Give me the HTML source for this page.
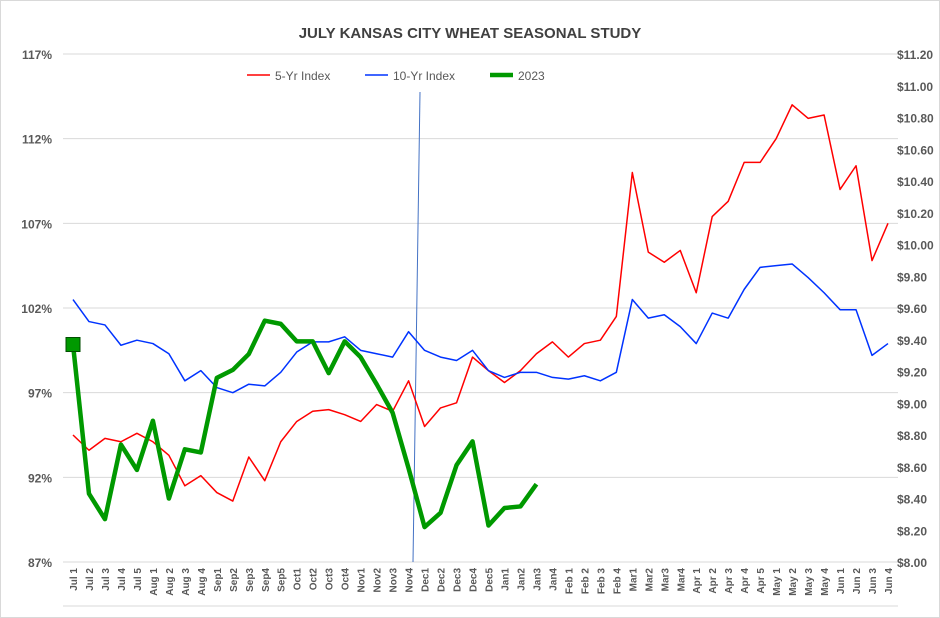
<!DOCTYPE html>
<html><head><meta charset="utf-8"><style>
body{margin:0;background:#fff;}
svg{display:block;font-family:"Liberation Sans",Arial,sans-serif;}
</style></head><body>
<svg id="chart" width="940" height="618" viewBox="0 0 940 618">
<rect x="0.5" y="0.5" width="939" height="617" fill="#fff" stroke="#d9d9d9"/>
<text x="470" y="38" text-anchor="middle" font-size="15" font-weight="bold" fill="#404040">JULY KANSAS CITY WHEAT SEASONAL STUDY</text>
<g id="grid"></g><g id="axes"></g><g id="series"></g>
<g>
<line x1="247" y1="75" x2="270" y2="75" stroke="#ff0000" stroke-width="1.5"/>
<text x="275" y="80" font-size="12" fill="#595959">5-Yr Index</text>
<line x1="365" y1="75" x2="388" y2="75" stroke="#0033ff" stroke-width="1.5"/>
<text x="393" y="80" font-size="12" fill="#595959">10-Yr Index</text>
<line x1="490" y1="75" x2="513" y2="75" stroke="#009900" stroke-width="4.5"/>
<text x="518" y="80" font-size="12" fill="#595959">2023</text>
</g>
</svg>
<script>
const categories=["Jul 1","Jul 2","Jul 3","Jul 4","Jul 5","Aug 1","Aug 2","Aug 3","Aug 4","Sep1","Sep2","Sep3","Sep4","Sep5","Oct1","Oct2","Oct3","Oct4","Nov1","Nov2","Nov3","Nov4","Dec1","Dec2","Dec3","Dec4","Dec5","Jan1","Jan2","Jan3","Jan4","Feb 1","Feb 2","Feb 3","Feb 4","Mar1","Mar2","Mar3","Mar4","Apr 1","Apr 2","Apr 3","Apr 4","Apr 5","May 1","May 2","May 3","May 4","Jun 1","Jun 2","Jun 3","Jun 4"];
const fiveYr=[94.5,93.6,94.3,94.1,94.6,94.1,93.3,91.5,92.1,91.1,90.6,93.2,91.8,94.1,95.3,95.9,96.0,95.7,95.3,96.3,95.9,97.7,95.0,96.1,96.4,99.1,98.3,97.6,98.3,99.3,100.0,99.1,99.9,100.1,101.5,110.0,105.3,104.7,105.4,102.9,107.4,108.3,110.6,110.6,112.0,114.0,113.2,113.4,109.0,110.4,104.8,107.0];
const tenYr=[102.5,101.2,101.0,99.8,100.1,99.9,99.3,97.7,98.3,97.3,97.0,97.5,97.4,98.2,99.4,100.0,100.0,100.3,99.5,99.3,99.1,100.6,99.5,99.1,98.9,99.5,98.3,97.9,98.2,98.2,97.9,97.8,98.0,97.7,98.2,102.5,101.4,101.6,100.9,99.9,101.7,101.4,103.1,104.4,104.5,104.6,103.8,102.9,101.9,101.9,99.2,99.9];
const price2023=[9.37,8.43,8.27,8.74,8.58,8.89,8.40,8.71,8.69,9.16,9.21,9.31,9.52,9.50,9.39,9.39,9.19,9.39,9.29,9.12,8.94,8.59,8.22,8.31,8.61,8.76,8.23,8.34,8.35,8.49];
const leftTicks=[87,92,97,102,107,112,117];
const rightTicks=[8.0,8.2,8.4,8.6,8.8,9.0,9.2,9.4,9.6,9.8,10.0,10.2,10.4,10.6,10.8,11.0,11.2];
const NS="http://www.w3.org/2000/svg";
const top_=54,bot=562,x0=73,x1=888;
const xS=i=>x0+i*(x1-x0)/(categories.length-1);
const yL=v=>bot-(v-87)/30*(bot-top_);
const yR=v=>bot-(v-8)/3.2*(bot-top_);
function mk(tag,attrs,parent){const e=document.createElementNS(NS,tag);for(const k in attrs)e.setAttribute(k,attrs[k]);parent.appendChild(e);return e;}
const grid=document.getElementById('grid'),axes=document.getElementById('axes'),ser=document.getElementById('series');
leftTicks.forEach(t=>{
 const l=mk('line',{x1:63,x2:898,y1:yL(t),y2:yL(t),stroke:'#d9d9d9','stroke-width':1},grid);
 
 
 const tx=mk('text',{x:52,y:yL(t)+5,'text-anchor':'end','font-size':12,'font-weight':'bold',fill:'#595959'},axes);
 tx.textContent=t+'%';
 
 
});
rightTicks.forEach(t=>{
 const tx=mk('text',{x:897,y:yR(t)+5,'text-anchor':'start','font-size':12,'font-weight':'bold',fill:'#595959'},axes);
 tx.textContent='$'+t.toFixed(2);
 
 
});
const bl=mk('line',{x1:63,x2:898,y1:606,y2:606,stroke:'#d9d9d9'},grid);


categories.forEach((c,i)=>{
 const tx=mk('text',{x:0,y:0,'text-anchor':'end','font-size':10,'font-weight':'bold',fill:'#595959',transform:`translate(${xS(i)+4},568) rotate(-90)`},axes);
 tx.textContent=c;
 
 
});
const vl=mk('line',{x1:420,y1:92,x2:413,y2:562,stroke:'#4472c4','stroke-width':1},ser);


function line(data,yf,color,w,name){
 const p=mk('polyline',{points:data.map((v,i)=>xS(i)+','+yf(v)).join(' '),fill:'none',stroke:color,'stroke-width':w,'stroke-linejoin':'round'},ser);
 
 
}
line(fiveYr,yL,'#ff0000',1.5,'series-5yr-index');
line(tenYr,yL,'#0033ff',1.5,'series-10yr-index');
line(price2023,yR,'#009900',4.5,'series-2023');
const m=mk('rect',{x:xS(0)-7,y:yR(price2023[0])-7,width:14,height:14,fill:'#009900',stroke:'#004d00','stroke-width':1},ser);


</script>
</body></html>
